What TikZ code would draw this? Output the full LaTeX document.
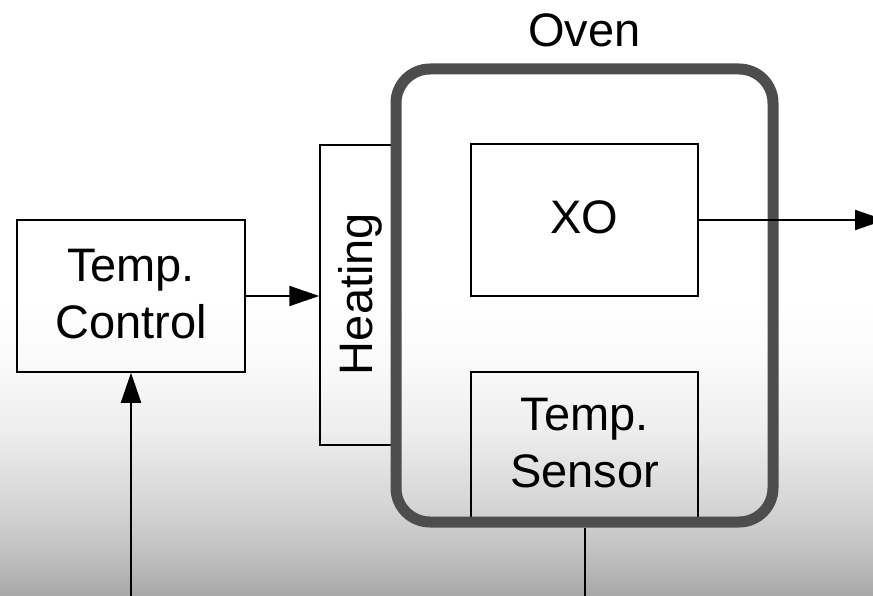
\documentclass[tikz,border=0pt]{standalone}
\usepackage{fontspec}
\setmainfont{Liberation Sans}
\usetikzlibrary{arrows.meta}
\definecolor{bgA}{gray}{0.659}
\definecolor{bgB}{gray}{0.769}
\definecolor{bgC}{gray}{0.847}
\definecolor{bgD}{gray}{0.933}
\definecolor{bgE}{gray}{0.98}
\definecolor{ovengray}{HTML}{4D4D4D}
\pgfdeclareverticalshading{bgshade}{100bp}{color(0bp)=(bgA); color(25bp)=(bgA); color(33.28bp)=(bgB); color(41.72bp)=(bgC); color(53.04bp)=(bgD); color(64.36bp)=(bgE); color(75bp)=(white); color(100bp)=(white)}
\begin{document}
\begin{tikzpicture}[x=1pt,y=-1pt,
  lbl/.style={font=\fontsize{47}{57}\selectfont, align=center, inner sep=0pt},
  blk/.style={draw=black, line width=1.5pt, inner sep=0pt},
  conn/.style={line width=2pt},
  arr/.style={conn, -{Triangle[length=30pt,width=20pt]}}]
\clip (0,0) rectangle (873,596);
\fill[white] (0,0) rectangle (873,300);
\shade[shading=bgshade] (0,300) rectangle (873,596);

% blocks
\node[blk, minimum width=76pt, minimum height=300pt] (heat) at (358,295) {};
\node[lbl, rotate=90] (heattxt) at (360,294) {Heating};
\node[blk, minimum width=227pt, minimum height=150pt] (sensor) at (584.5,447) {};
\node[lbl] (sensortxt) at (584.5,443) {Temp.\\Sensor};
\node[blk, minimum width=227pt, minimum height=152pt] (xo) at (584.5,220) {};
\node[lbl] (xotxt) at (584.5,217.5) {XO};
\node[blk, minimum width=228pt, minimum height=152pt] (ctrl) at (131,296) {};
\node[lbl] (ctrltxt) at (131,294.5) {Temp.\\Control};

% oven
\node[draw=ovengray, line width=11pt, rounded corners=34pt, inner sep=0pt,
      minimum width=377pt, minimum height=453pt] (oven) at (584.5,295.5) {};
\node[lbl] (ovenlbl) at (584.5,30) {Oven};

% connectors
\coordinate (outR) at (885,220);
\coordinate (inB) at (131,600);
\coordinate (sensOut) at (584.5,600);
\draw[arr] (ctrl.east) -- (ctrl.east -| heat.west);
\draw[arr] (xo.east) -- (outR);
\draw[arr] (inB) -- (ctrl.south);
\draw[conn] (oven.south) -- (sensOut);
\end{tikzpicture}
\end{document}
